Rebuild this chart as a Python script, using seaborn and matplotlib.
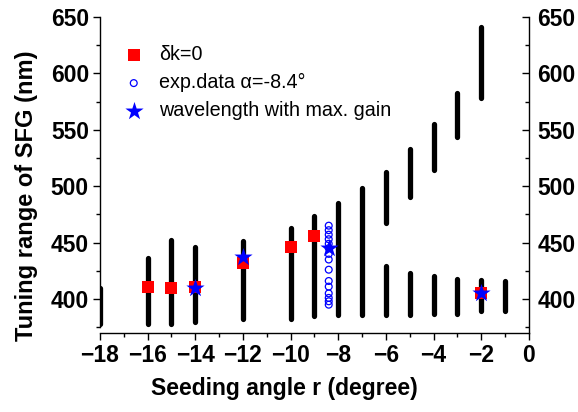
import matplotlib
matplotlib.use("Agg")
import matplotlib.pyplot as plt
from matplotlib.ticker import MultipleLocator
import seaborn as sns

# seeding angle of each tuning bar and its lower/upper end (nm)
bar_angles = [-18, -16, -15, -14, -12, -10, -9, -8, -7, -6, -5, -4, -3, -2, -1]
bar_low = [378, 378, 378, 380, 382, 382, 385, 386, 386, 386, 386, 387, 387, 389, 389]
bar_high = [410, 436, 452, 446, 451, 463, 474, 485, 498, 429, 423, 420, 418, 417, 416]

# second branch of the tuning range (upper segments)
upper_angles = [-6, -5, -4, -3, -2]
upper_low = [467, 490, 514, 544, 578]
upper_high = [513, 533, 555, 583, 641]

# delta k = 0 points
dk_angle = [-16, -15, -14, -12, -10, -9, -2]
dk_wl = [411, 410, 411, 432, 446.5, 456, 405]

# experimental data at alpha = -8.4 deg
exp_wl = [465, 461, 457, 453, 449, 445, 440, 435, 426, 416, 411, 405, 401, 398, 395]
exp_angle = [-8.4] * len(exp_wl)

# wavelength with max. gain
gain_angle = [-14, -12, -8.4, -2]
gain_wl = [410, 437, 445, 405]

sns.set_style("ticks")
plt.rcParams["font.family"] = ["Liberation Sans", "DejaVu Sans"]
plt.rcParams["text.color"] = "black"
plt.rcParams["axes.labelcolor"] = "black"
plt.rcParams["xtick.color"] = "black"
plt.rcParams["ytick.color"] = "black"

fig = plt.figure(figsize=(5.78, 4.12), dpi=100)
ax = fig.add_axes([0.173, 0.192, 0.742, 0.767])

ax.vlines(bar_angles, bar_low, bar_high, color="black", linewidth=3.8,
          capstyle="round", zorder=2)
ax.vlines(upper_angles, upper_low, upper_high, color="black", linewidth=3.8,
          capstyle="round", zorder=2)

sns.scatterplot(x=dk_angle, y=dk_wl, marker="s", color="red", s=64,
                linewidth=0, label="δk=0", ax=ax, zorder=3)
sns.scatterplot(x=exp_angle, y=exp_wl, marker="o", s=24, facecolor="none",
                edgecolor="blue", linewidth=0.9, label="exp.data α=-8.4°",
                ax=ax, zorder=3)
sns.scatterplot(x=gain_angle, y=gain_wl, marker="*", color="blue", s=190,
                linewidth=0, label="wavelength with max. gain", ax=ax, zorder=4)

ax.set_xlim(-18, 0)
ax.set_ylim(370, 650)
ax.xaxis.set_major_locator(MultipleLocator(2))
ax.xaxis.set_minor_locator(MultipleLocator(1))
ax.yaxis.set_major_locator(MultipleLocator(50))
ax.yaxis.set_minor_locator(MultipleLocator(25))

ax.spines["top"].set_visible(False)
ax.spines["right"].set_visible(False)
ax.spines["left"].set_bounds(375, 650)
for sp in ax.spines.values():
    sp.set_linewidth(1.0)
    sp.set_color("black")

ax.tick_params(axis="both", which="major", direction="out", length=5,
               width=1, labelsize=16.5, pad=3)
ax.tick_params(axis="both", which="minor", direction="out", length=3, width=1)
for lab in ax.get_xticklabels() + ax.get_yticklabels():
    lab.set_fontweight("bold")

ax2 = ax.twinx()
ax2.set_ylim(370, 650)
ax2.yaxis.set_major_locator(MultipleLocator(50))
ax2.yaxis.set_minor_locator(MultipleLocator(25))
for name in ["top", "left", "bottom"]:
    ax2.spines[name].set_visible(False)
ax2.spines["right"].set_linewidth(1.0)
ax2.spines["right"].set_color("black")
ax2.tick_params(axis="y", which="major", direction="in", length=5, width=1,
                labelsize=16.5, pad=6)
ax2.tick_params(axis="y", which="minor", direction="in", length=3, width=1)
for lab in ax2.get_yticklabels():
    lab.set_fontweight("bold")

ax.set_xlabel("Seeding angle r (degree)", fontsize=16.5, fontweight="bold")
ax.set_ylabel("Tuning range of SFG (nm)", fontsize=17, fontweight="bold")
ax.xaxis.set_label_coords(0.43, -0.14)
ax.yaxis.set_label_coords(-0.145, 0.435)

ax.legend(loc="upper left", bbox_to_anchor=(0.058, 0.91), frameon=False,
          fontsize=14.2, handlelength=0.9, handletextpad=0.85,
          labelspacing=0.45, borderpad=0, borderaxespad=0)

fig.savefig("out.png", dpi=100)
